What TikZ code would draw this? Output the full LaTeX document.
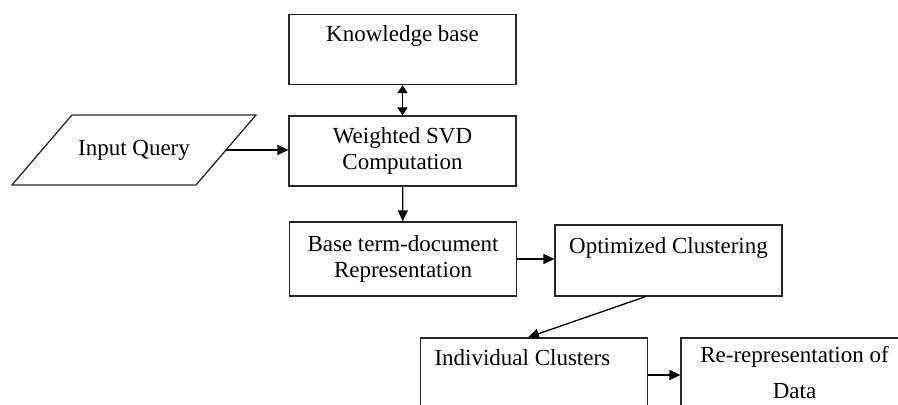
\documentclass[tikz,border=0pt]{standalone}
\usepackage{fontspec}
\setmainfont{Liberation Serif}
\usepackage{tikz}
\usetikzlibrary{
  positioning,
  arrows.meta,
  calc
}

\begin{document}
\begin{tikzpicture}[
  x=0.5pt, y=-0.5pt,
  font=\fontsize{11.5}{13}\selectfont,
  line width=0.65pt,
  block/.style={
    rectangle,
    draw=black!85,
    minimum width=113.5pt,
    minimum height=35pt,
    inner sep=2pt,
    align=center
  },
  arrow/.style={
    -{Triangle[length=5.5pt,width=5pt]},
    draw=black
  },
  dblarrow/.style={
    {Triangle[length=4pt,width=5pt]}-{Triangle[length=4pt,width=5pt]},
    draw=black
  }
]
\useasboundingbox (0,0) rectangle (898,405);
\clip (0,0) rectangle (898,405);

% Upper column
\node[block] (kb) at (402.5,49.5) {Knowledge base\\[3pt]\mbox{}};
\node[block] (wsvd) at (402.5,151) {Weighted SVD\\Computation};
\node[block, minimum height=37pt] (base) at (403,259) {Base term-document\\Representation};
\node[block, minimum height=35.5pt] (opt) at (668.5,260.5) {Optimized Clustering\\[2pt]\mbox{}};

% Input parallelogram
\draw[draw=black!85] (12,185) -- (72,115) -- (256,115) -- (196,185) -- cycle;
\node (query) at (134,150) {Input Query};
\coordinate (qout) at (226,150);

% Lower row
\node[block, text width=99.5pt, inner xsep=7pt, align=flush left] (ind) at (534,373) {Individual Clusters\\[2pt]\mbox{}};
\node[block] (rerep) at (794.5,373) {Re-representation of\\[5pt]Data};

% Transitions
\draw[dblarrow] (kb) -- (wsvd);
\draw[arrow] (qout) -- (qout -| wsvd.west);
\draw[arrow] (wsvd) -- (base);
\draw[arrow] (base.east |- 0,259) -- (opt.west |- 0,259);
\draw[arrow] ([xshift=-11.5pt]opt.south) -- ([xshift=-3pt]ind.north);
\draw[arrow] ([yshift=-1pt]ind.east) -- ([yshift=-1pt]rerep.west);

\end{tikzpicture}
\end{document}
